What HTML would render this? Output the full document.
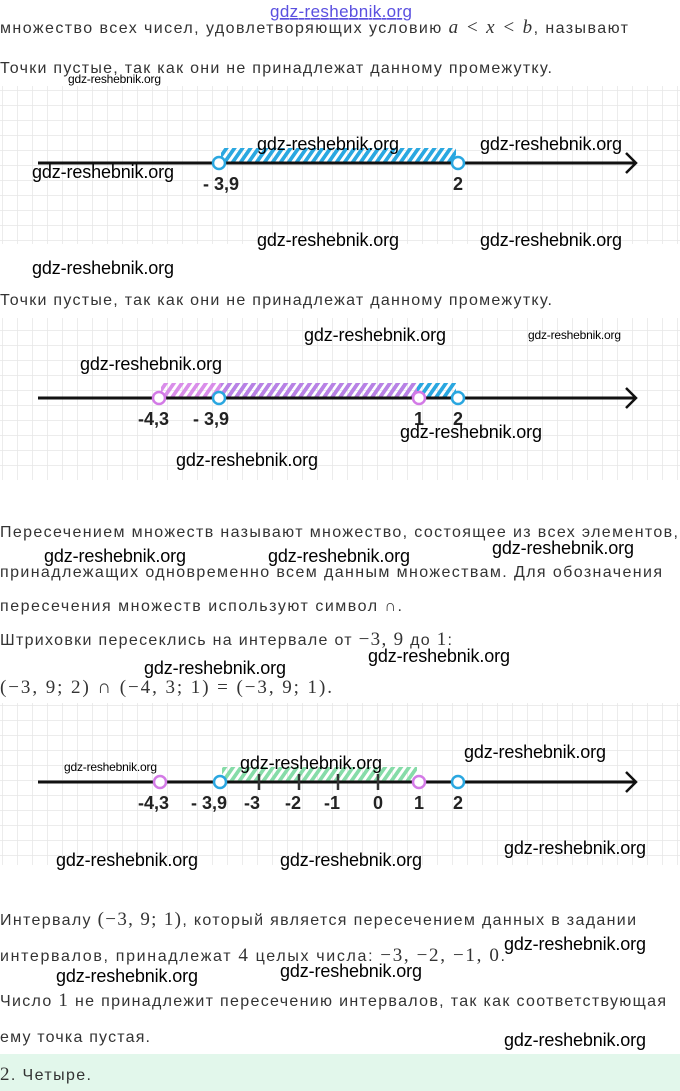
<!DOCTYPE html>
<html><head><meta charset="utf-8"><style>
html,body{margin:0;padding:0;background:#fff;}
svg{display:block;}
.t{font-family:"Liberation Sans",sans-serif;font-size:16px;fill:#333;}
.m{font-family:"Liberation Serif",serif;font-size:19px;fill:#333;}
.w{font-family:"Liberation Sans",sans-serif;font-size:18px;fill:#000;}
.ws{font-family:"Liberation Sans",sans-serif;font-size:12px;fill:#000;}
.lb{font-family:"Liberation Sans",sans-serif;font-size:18px;font-weight:bold;fill:#222;}
</style></head><body>
<svg width="680" height="1091" viewBox="0 0 680 1091" xmlns="http://www.w3.org/2000/svg">
<defs>
<pattern id="g" width="15" height="15" patternUnits="userSpaceOnUse" x="2" y="0">
<path d="M0 0H15M0 0V15" stroke="#e6e6e6" stroke-width="1.5" fill="none"/>
</pattern>
<pattern id="hb" width="8" height="16" patternUnits="userSpaceOnUse" patternTransform="skewX(-35)">
<rect x="0" y="0" width="4.5" height="16" fill="#2aa7e0"/>
</pattern>
<pattern id="hp" width="8" height="16" patternUnits="userSpaceOnUse" patternTransform="skewX(-35)">
<rect x="0" y="0" width="4.5" height="16" fill="#d37ae6"/>
</pattern>
<pattern id="hg" width="8" height="16" patternUnits="userSpaceOnUse" patternTransform="skewX(-35)">
<rect x="0" y="0" width="4.5" height="16" fill="#86dca8"/>
</pattern>
</defs>

<text x="270" y="17" font-family="Liberation Sans" font-size="17" fill="#5a50e0" text-decoration="underline" textLength="142">gdz-reshebnik.org</text>
<text class="t" x="0" y="33" textLength="628">множество всех чисел, удовлетворяющих условию <tspan class="m" font-style="italic">a &lt; x &lt; b</tspan>, называют</text>
<text class="t" x="0" y="73" textLength="552">Точки пустые, так как они не принадлежат данному промежутку.</text>
<text class="ws" x="68" y="83" textLength="93">gdz-reshebnik.org</text>

<!-- fig1 -->
<rect x="0" y="86" width="680" height="158" fill="url(#g)"/>
<rect x="221" y="148" width="235" height="15" fill="url(#hb)"/>
<line x1="38" y1="163" x2="636" y2="163" stroke="#111" stroke-width="3"/>
<path d="M626 153L636 163L626 173" stroke="#111" stroke-width="2.5" fill="none"/>
<circle cx="219" cy="163" r="6" fill="#fff" stroke="#2aa7e0" stroke-width="2.5"/>
<circle cx="458" cy="163" r="6" fill="#fff" stroke="#2aa7e0" stroke-width="2.5"/>
<text class="lb" x="203" y="190">- 3,9</text>
<text class="lb" x="453" y="190">2</text>
<text class="w" x="257" y="150" textLength="142">gdz-reshebnik.org</text>
<text class="w" x="480" y="150" textLength="142">gdz-reshebnik.org</text>
<text class="w" x="32" y="178" textLength="142">gdz-reshebnik.org</text>
<text class="w" x="257" y="246" textLength="142">gdz-reshebnik.org</text>
<text class="w" x="480" y="246" textLength="142">gdz-reshebnik.org</text>
<text class="w" x="32" y="274" textLength="142">gdz-reshebnik.org</text>
<text class="t" x="0" y="305" textLength="552">Точки пустые, так как они не принадлежат данному промежутку.</text>

<!-- fig2 -->
<rect x="0" y="318" width="680" height="162" fill="url(#g)"/>
<rect x="221" y="383" width="235" height="15" fill="url(#hb)"/>
<rect x="161" y="383" width="256" height="15" fill="url(#hp)" opacity="0.85"/>
<line x1="38" y1="398" x2="636" y2="398" stroke="#111" stroke-width="3"/>
<path d="M626 388L636 398L626 408" stroke="#111" stroke-width="2.5" fill="none"/>
<circle cx="159" cy="398" r="6" fill="#fff" stroke="#d37ae6" stroke-width="2.5"/>
<circle cx="219" cy="398" r="6" fill="#fff" stroke="#2aa7e0" stroke-width="2.5"/>
<circle cx="419" cy="398" r="6" fill="#fff" stroke="#d37ae6" stroke-width="2.5"/>
<circle cx="458" cy="398" r="6" fill="#fff" stroke="#2aa7e0" stroke-width="2.5"/>
<text class="lb" x="138" y="425">-4,3</text>
<text class="lb" x="193" y="425">- 3,9</text>
<text class="lb" x="414" y="425">1</text>
<text class="lb" x="453" y="425">2</text>
<text class="w" x="304" y="341" textLength="142">gdz-reshebnik.org</text>
<text class="ws" x="528" y="339" textLength="93">gdz-reshebnik.org</text>
<text class="w" x="80" y="370" textLength="142">gdz-reshebnik.org</text>
<text class="w" x="400" y="438" textLength="142">gdz-reshebnik.org</text>
<text class="w" x="176" y="466" textLength="142">gdz-reshebnik.org</text>

<text class="t" x="0" y="537" textLength="678">Пересечением множеств называют множество, состоящее из всех элементов,</text>
<text class="w" x="44" y="562" textLength="142">gdz-reshebnik.org</text>
<text class="w" x="268" y="562" textLength="142">gdz-reshebnik.org</text>
<text class="w" x="492" y="554" textLength="142">gdz-reshebnik.org</text>
<text class="t" x="0" y="577" textLength="662">принадлежащих одновременно всем данным множествам. Для обозначения</text>
<text class="t" x="0" y="611" textLength="402">пересечения множеств используют символ ∩.</text>
<text class="t" x="0" y="645" textLength="452">Штриховки пересеклись на интервале от <tspan class="m">−3, 9</tspan> до <tspan class="m">1</tspan>:</text>
<text class="w" x="368" y="662" textLength="142">gdz-reshebnik.org</text>
<text class="w" x="144" y="674" textLength="142">gdz-reshebnik.org</text>
<text class="m" x="0" y="693" font-size="21" textLength="332">(−3, 9;  2) ∩ (−4, 3;  1) = (−3, 9;  1).</text>

<!-- fig3 -->
<rect x="0" y="703" width="680" height="162" fill="url(#g)"/>
<rect x="222" y="767" width="195" height="15" fill="url(#hg)"/>
<line x1="38" y1="782" x2="636" y2="782" stroke="#111" stroke-width="3"/>
<path d="M626 772L636 782L626 792" stroke="#111" stroke-width="2.5" fill="none"/>
<g stroke="#333" stroke-width="2.5">
<line x1="259" y1="774" x2="259" y2="790"/><line x1="299" y1="774" x2="299" y2="790"/>
<line x1="338" y1="774" x2="338" y2="790"/><line x1="378" y1="774" x2="378" y2="790"/>
</g>
<circle cx="160" cy="782" r="6" fill="#fff" stroke="#d37ae6" stroke-width="2.5"/>
<circle cx="220" cy="782" r="6" fill="#fff" stroke="#2aa7e0" stroke-width="2.5"/>
<circle cx="419" cy="782" r="6" fill="#fff" stroke="#d37ae6" stroke-width="2.5"/>
<circle cx="458" cy="782" r="6" fill="#fff" stroke="#2aa7e0" stroke-width="2.5"/>
<text class="lb" x="138" y="809">-4,3</text>
<text class="lb" x="191" y="809">- 3,9</text>
<text class="lb" x="244" y="809">-3</text>
<text class="lb" x="285" y="809">-2</text>
<text class="lb" x="324" y="809">-1</text>
<text class="lb" x="373" y="809">0</text>
<text class="lb" x="414" y="809">1</text>
<text class="lb" x="453" y="809">2</text>
<text class="ws" x="64" y="771" textLength="93">gdz-reshebnik.org</text>
<text class="w" x="240" y="769" textLength="142">gdz-reshebnik.org</text>
<text class="w" x="464" y="758" textLength="142">gdz-reshebnik.org</text>
<text class="w" x="56" y="866" textLength="142">gdz-reshebnik.org</text>
<text class="w" x="280" y="866" textLength="142">gdz-reshebnik.org</text>
<text class="w" x="504" y="854" textLength="142">gdz-reshebnik.org</text>

<text class="t" x="0" y="925" textLength="636">Интервалу <tspan class="m">(−3, 9;  1)</tspan>, который является пересечением данных в задании</text>
<text class="t" x="0" y="961" textLength="505">интервалов, принадлежат <tspan class="m">4</tspan> целых числа: <tspan class="m">−3,  −2,  −1,  0</tspan>.</text>
<text class="w" x="504" y="950" textLength="142">gdz-reshebnik.org</text>
<text class="w" x="56" y="982" textLength="142">gdz-reshebnik.org</text>
<text class="w" x="280" y="977" textLength="142">gdz-reshebnik.org</text>
<text class="t" x="0" y="1006" textLength="666">Число <tspan class="m">1</tspan> не принадлежит пересечению интервалов, так как соответствующая</text>
<text class="t" x="0" y="1042" textLength="150">ему точка пустая.</text>
<text class="w" x="504" y="1046" textLength="142">gdz-reshebnik.org</text>
<rect x="0" y="1054" width="680" height="37" fill="#e2f7eb"/>
<text class="t" x="0" y="1080" textLength="91"><tspan class="m">2</tspan>. Четыре.</text>
</svg>
</body></html>
